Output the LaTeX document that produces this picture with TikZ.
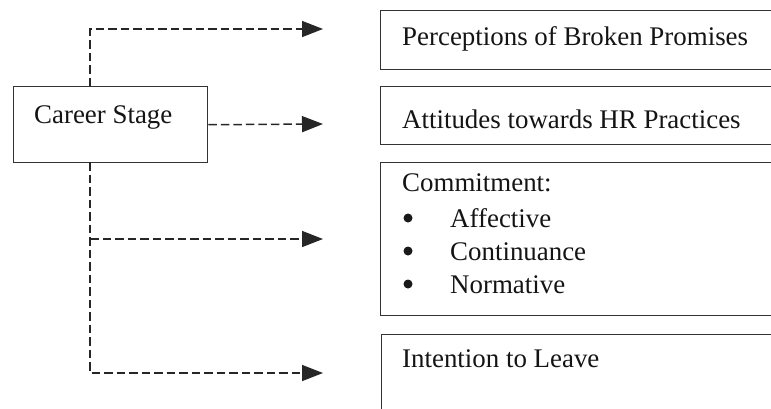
\documentclass[tikz,border=0pt]{standalone}
\usepackage{fontspec}
\setmainfont{Liberation Serif}
\usetikzlibrary{arrows.meta}

\begin{document}
\begin{tikzpicture}[x=1pt, y=-1pt,
  every node/.style={inner sep=0pt, text=black!92},
  box/.style={draw=black!80, line width=1.4pt, anchor=north west},
  txt/.style={anchor=base west, font=\fontsize{26.9pt}{32pt}\selectfont},
  bullet/.style={circle, fill=black!90, minimum size=9pt},
  flow/.style={draw=black!85, line width=1.5pt, dash pattern=on 8.5pt off 4pt,
    -{Triangle[length=21pt, width=16pt]}}]

\useasboundingbox (0,0) rectangle (771,408);
\clip (0,0) rectangle (771,408);

% source box
\node[box, minimum width=194pt, minimum height=76pt] (cs) at (13,86) {};
\node[txt] (cslabel) at (34,123) {Career Stage};

% outcome boxes (running off the right edge)
\node[box, minimum width=430pt, minimum height=59pt] (b1) at (380,10) {};
\node[box, minimum width=430pt, minimum height=58pt] (b2) at (380,86) {};
\node[box, minimum width=430pt, minimum height=153pt] (b3) at (380,162) {};
\node[box, minimum width=430pt, minimum height=100pt] (b4) at (381,334) {};

\node[txt] (t1) at (402,45) {Perceptions of Broken Promises};
\node[txt] (t2) at (402,128) {Attitudes towards HR Practices};
\node[txt] (t3) at (402,191) {Commitment:};
\node[txt] (i1) at (450,227) {Affective};
\node[txt] (i2) at (450,260) {Continuance};
\node[txt] (i3) at (450,293) {Normative};
\node[txt] (t4) at (402,367) {Intention to Leave};

% list bullets
\node[bullet] (d1) at (408,218) {};
\node[bullet] (d2) at (408,251) {};
\node[bullet] (d3) at (408,284) {};

% arrow targets and corners
\coordinate (up) at (90,86);
\coordinate (down) at (90,162);
\coordinate (a1) at (323,29);
\coordinate (a2) at (323,124);
\coordinate (a3) at (323,239);
\coordinate (a4) at (323,373);

% connectors
\draw[flow] (up) |- (a1);
\draw[flow] (cs.east) -- (a2);
\draw[flow] (down) |- (a4);
\draw[flow] (a3 -| down) -- (a3);
\end{tikzpicture}
\end{document}
